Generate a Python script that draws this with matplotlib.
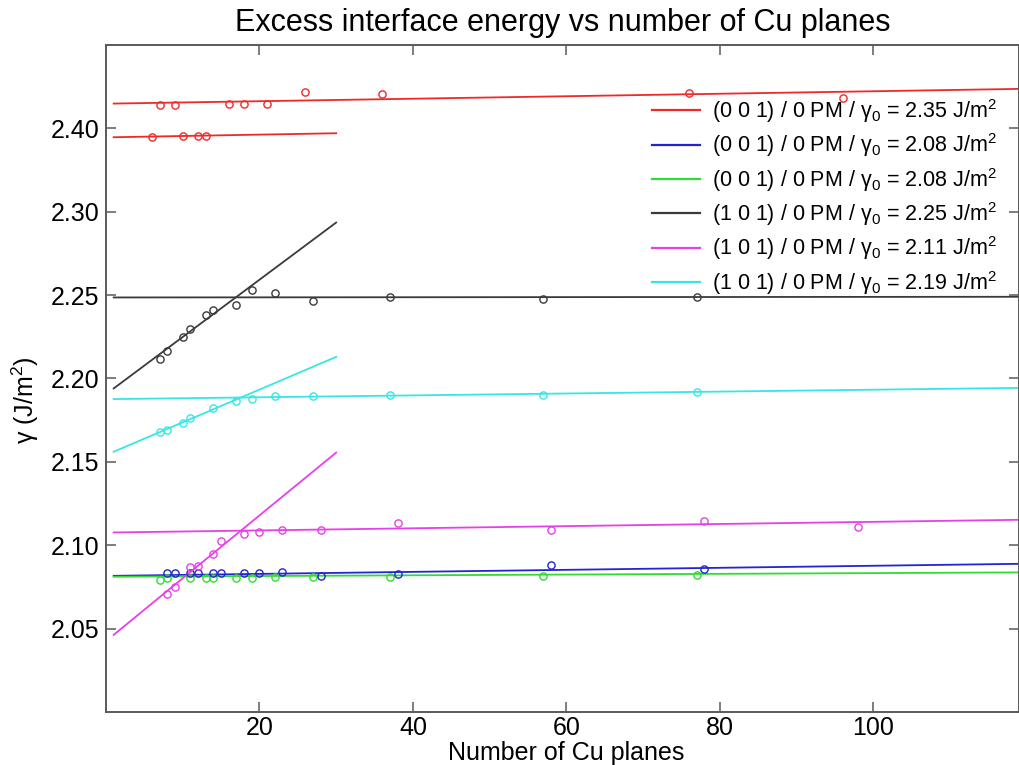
import numpy as np
import matplotlib
matplotlib.use("Agg")
import matplotlib.pyplot as plt

plt.rcParams["font.family"] = ["Liberation Sans", "DejaVu Sans"]
plt.rcParams["mathtext.fontset"] = "custom"
plt.rcParams["mathtext.rm"] = "Liberation Sans"
plt.rcParams["mathtext.it"] = "Liberation Sans"
plt.rcParams["mathtext.default"] = "regular"

# ---- data -------------------------------------------------------------
# (0 0 1) red: two point sets
red_hi_n = [7, 9, 16, 18, 21, 26, 36, 76, 96]
red_hi_g = [2.3641, 2.3641, 2.3649, 2.3649, 2.3649, 2.3721, 2.3705, 2.3713, 2.3683]
red_lo_n = [6, 10, 12, 13]
red_lo_g = [2.3447, 2.3455, 2.3455, 2.3455]

# (0 0 1) blue
blue_n = [8, 9, 11, 12, 14, 15, 18, 20, 23, 28, 38, 58, 78]
blue_g = [2.0831, 2.0831, 2.0831, 2.0831, 2.0831, 2.0831, 2.0831, 2.0831,
          2.0837, 2.0817, 2.0827, 2.0883, 2.0855]

# (0 0 1) green
green_n = [7, 8, 11, 13, 14, 17, 19, 22, 27, 37, 57, 77]
green_g = [2.0793, 2.0801, 2.0801, 2.0801, 2.0801, 2.0801, 2.0801, 2.0807,
           2.0807, 2.0811, 2.0817, 2.0823]

# (1 0 1) black
black_n = [7, 8, 10, 11, 13, 14, 17, 19, 22, 27, 37, 57, 77]
black_g = [2.2116, 2.2166, 2.2250, 2.2296, 2.2380, 2.2410, 2.2438, 2.2530,
           2.2514, 2.2466, 2.2486, 2.2475, 2.2486]

# (1 0 1) magenta
mag_n = [8, 9, 11, 12, 14, 15, 18, 20, 23, 28, 38, 58, 78, 98]
mag_g = [2.0707, 2.0747, 2.0871, 2.0877, 2.0947, 2.1027, 2.1067, 2.1077,
         2.1091, 2.1091, 2.1133, 2.1091, 2.1143, 2.1111]

# (1 0 1) cyan
cyan_n = [7, 8, 10, 11, 14, 17, 19, 22, 27, 37, 57, 77]
cyan_g = [2.1680, 2.1692, 2.1736, 2.1763, 2.1826, 2.1866, 2.1880, 2.1896,
          2.1894, 2.1902, 2.1902, 2.1920]

# linear fits: (intercept, slope, n_start, n_end)
fit_red_long = (2.3648, 0.0000746, 1, 120)
fit_red_short = (2.3446, 0.0000828, 1, 30)
fit_blue_long = (2.0816, 0.0000610, 1, 120)
fit_green_long = (2.0811, 0.0000220, 1, 120)
fit_black_long = (2.2486, 0.0000034, 1, 120)
fit_black_short = (2.1906, 0.0034310, 1, 30)
fit_mag_long = (2.1076, 0.0000644, 1, 120)
fit_mag_short = (2.0425, 0.0037690, 1, 30)
fit_cyan_long = (2.1876, 0.0000568, 1, 120)
fit_cyan_short = (2.1541, 0.0019620, 1, 30)

legend_labels = [
    "(0 0 1) / 0 PM / γ$_0$ = 2.35 J/m$^2$",
    "(0 0 1) / 0 PM / γ$_0$ = 2.08 J/m$^2$",
    "(0 0 1) / 0 PM / γ$_0$ = 2.08 J/m$^2$",
    "(1 0 1) / 0 PM / γ$_0$ = 2.25 J/m$^2$",
    "(1 0 1) / 0 PM / γ$_0$ = 2.11 J/m$^2$",
    "(1 0 1) / 0 PM / γ$_0$ = 2.19 J/m$^2$",
]

x_ticks = [20, 40, 60, 80, 100]
y_ticks = [2.05, 2.10, 2.15, 2.20, 2.25, 2.30, 2.35]
y_tick_labels = ["2.05", "2.10", "2.15", "2.20", "2.25", "2.30", "2.40"]

# ---- colours ----------------------------------------------------------
C_RED = "#f02828"
C_BLUE = "#2424d0"
C_GREEN = "#30dc30"
C_BLACK = "#3a3a3a"
C_MAG = "#e840e8"
C_CYAN = "#38e6e6"
AXIS_GREY = "#5a5a5a"

fig = plt.figure(figsize=(10.2, 7.65), dpi=100)
ax = fig.add_axes([106 / 1020, 1 - 712 / 765, (1019 - 106) / 1020, (712 - 45) / 765])


def fit_line(fit, color):
    a, b, n0, n1 = fit
    n = np.array([n0, n1], dtype=float)
    return ax.plot(n, a + b * n, color=color, lw=1.3)[0]


def points(n, g, color):
    ax.plot(n, g, linestyle="none", marker="o", markersize=5.2,
            markerfacecolor="none", markeredgecolor=color, markeredgewidth=1.0)


h_red = fit_line(fit_red_long, C_RED)
fit_line(fit_red_short, C_RED)
h_blue = fit_line(fit_blue_long, C_BLUE)
h_green = fit_line(fit_green_long, C_GREEN)
h_black = fit_line(fit_black_long, C_BLACK)
fit_line(fit_black_short, C_BLACK)
h_mag = fit_line(fit_mag_long, C_MAG)
fit_line(fit_mag_short, C_MAG)
h_cyan = fit_line(fit_cyan_long, C_CYAN)
fit_line(fit_cyan_short, C_CYAN)

points(red_hi_n, red_hi_g, C_RED)
points(red_lo_n, red_lo_g, C_RED)
points(green_n, green_g, C_GREEN)
points(blue_n, blue_g, C_BLUE)
points(black_n, black_g, C_BLACK)
points(mag_n, mag_g, C_MAG)
points(cyan_n, cyan_g, C_CYAN)

ax.set_xlim(0, 119)
ax.set_ylim(2.0, 2.4)
ax.set_xticks(x_ticks)
ax.set_yticks(y_ticks)
ax.set_yticklabels(y_tick_labels)
ax.tick_params(axis="both", direction="in", top=True, right=True,
               length=7, width=1.1, color=AXIS_GREY, labelsize=18,
               labelcolor="black")
ax.tick_params(axis="x", pad=3)
ax.tick_params(axis="y", pad=5)
for sp in ax.spines.values():
    sp.set_color(AXIS_GREY)
    sp.set_linewidth(1.4)

leg = ax.legend([h_red, h_blue, h_green, h_black, h_mag, h_cyan], legend_labels,
                loc="upper left", bbox_to_anchor=((652 - 106) / 913, 1 - (97 - 45) / 667),
                frameon=False, fontsize=15.5, handlelength=2.25, handletextpad=0.55,
                labelspacing=0.3, borderpad=0, borderaxespad=0)
for line in leg.get_lines():
    line.set_linewidth(1.6)

ax.set_xlabel("Number of Cu planes", fontsize=18)
ax.xaxis.set_label_coords(0.5 + 4 / 913, (712 - 741) / 667)
ax.set_ylabel("γ (J/m$^2$)", fontsize=18)
ax.yaxis.set_label_coords((41 - 106) / 913, 1 - (400 - 45) / 667)

fig.text(0.5515, 1 - 31 / 765, "Excess interface energy vs number of Cu planes",
         ha="center", va="baseline", fontsize=22)

fig.savefig("out.png", dpi=100)
